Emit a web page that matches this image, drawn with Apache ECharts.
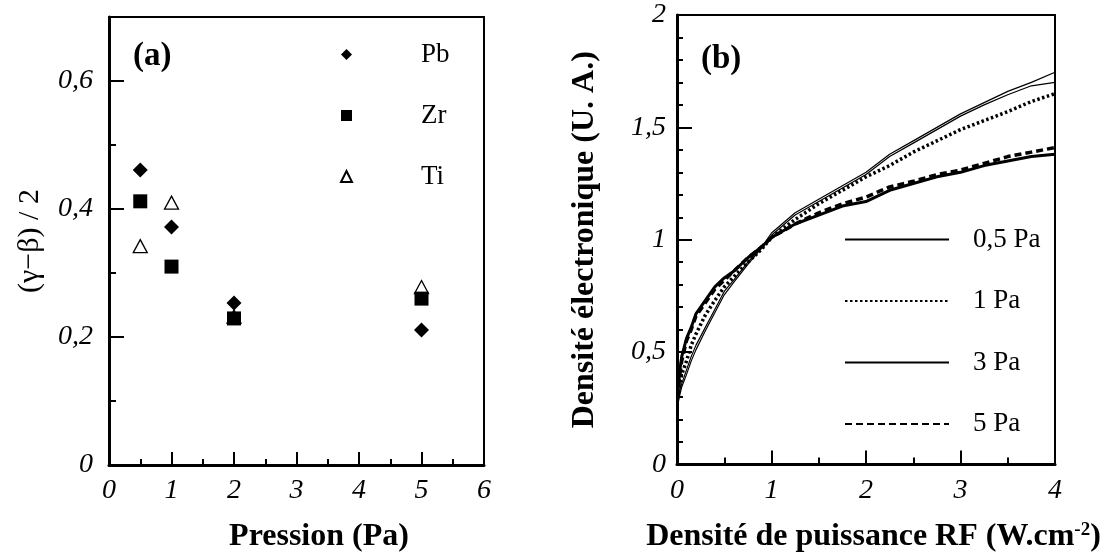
<!DOCTYPE html>
<html>
<head>
<meta charset="utf-8">
<script src="https://cdn.jsdelivr.net/npm/echarts@6.0.0/dist/echarts.min.js"></script>
<style>
    html, body { margin: 0; padding: 0; background: #fff; }
    #main { width: 1114px; height: 558px; }
</style>
</head>
<body>
<div id="main"></div>
<script>
// (a) : (γ-β)/2 en fonction de la pression
const pressions = [0.5, 1, 2, 5];
const pb = [0.461, 0.372, 0.253, 0.211];
const zr = [0.412, 0.310, 0.229, 0.260];
const ti = [0.342, 0.410, 0.232, 0.278];

// (b) : densité électronique en fonction de la densité de puissance RF
const rfX = [0.01, 0.03, 0.05, 0.1, 0.15, 0.2, 0.3, 0.4, 0.5, 0.6, 0.75, 0.9, 1, 1.25, 1.5, 1.75, 2, 2.25, 2.5, 2.75, 3, 3.25, 3.5, 3.75, 4];
const pa05 = [0.28, 0.33, 0.36, 0.42, 0.48, 0.53, 0.61, 0.69, 0.77, 0.82, 0.9, 0.97, 1.03, 1.12, 1.18, 1.24, 1.30, 1.38, 1.44, 1.50, 1.56, 1.61, 1.66, 1.70, 1.745];
const pa05b = [0.27, 0.31, 0.345, 0.40, 0.46, 0.51, 0.595, 0.675, 0.755, 0.81, 0.89, 0.965, 1.02, 1.11, 1.17, 1.23, 1.29, 1.37, 1.43, 1.49, 1.55, 1.60, 1.645, 1.685, 1.70];
const pa1 = [0.30, 0.36, 0.40, 0.46, 0.53, 0.58, 0.665, 0.73, 0.79, 0.835, 0.90, 0.96, 1.01, 1.09, 1.16, 1.22, 1.28, 1.33, 1.39, 1.44, 1.49, 1.53, 1.57, 1.615, 1.65];
const pa3 = [0.32, 0.42, 0.48, 0.56, 0.61, 0.67, 0.73, 0.79, 0.83, 0.86, 0.92, 0.97, 1.01, 1.07, 1.11, 1.15, 1.17, 1.22, 1.25, 1.28, 1.30, 1.33, 1.35, 1.37, 1.38];
const pa5 = [0.30, 0.40, 0.46, 0.55, 0.60, 0.66, 0.72, 0.78, 0.82, 0.86, 0.92, 0.97, 1.01, 1.07, 1.12, 1.16, 1.19, 1.235, 1.26, 1.29, 1.31, 1.34, 1.37, 1.39, 1.41];

const serif = '"Liberation Serif", serif';
const comma = function (v) {
    return String(v).replace('.', ',');
};
const pairs = function (xs, ys) {
    return xs.map(function (x, i) {
        return [x, ys[i]];
    });
};
const tickLabel = function (margin, formatter) {
    return {margin: margin, formatter: formatter, fontFamily: serif, fontStyle: 'italic', fontSize: 28, color: '#000'};
};
const axisLine = function (width) {
    return {show: true, onZero: false, lineStyle: {color: '#000', width: width}};
};
const ticks = function (length) {
    return {show: true, inside: true, length: length, lineStyle: {color: '#000', width: 2}};
};
const minor = function (splitNumber, length) {
    return {show: true, splitNumber: splitNumber, length: length, lineStyle: {color: '#000', width: 2}};
};
// top / right edges of each frame
const frame = function (gridIndex, position, max) {
    return {
        gridIndex: gridIndex
        , type: 'value'
        , position: position
        , min: 0
        , max: max
        , axisLine: axisLine(2)
        , axisTick: {show: false}
        , axisLabel: {show: false}
        , splitLine: {show: false}
    };
};
// tick marks only (no line, no labels)
const tickAxis = function (gridIndex, position, max, interval, len, split, minorLen) {
    return {
        gridIndex: gridIndex
        , type: 'value'
        , position: position
        , min: 0
        , max: max
        , interval: interval
        , axisLine: {show: false}
        , axisTick: ticks(len)
        , minorTick: minor(split, minorLen)
        , axisLabel: {show: false}
        , splitLine: {show: false}
    };
};

const chart = echarts.init(document.getElementById('main'));
chart.setOption({
    animation: false
    , grid: [
        {left: 109, top: 17, width: 375, height: 448}
        , {left: 677, top: 15, width: 378, height: 450}
    ]
    , graphic: [
        {type: 'text', left: 133, top: 40, style: {text: '(a)', font: 'bold 33px ' + serif, fill: '#000'}}
        , {type: 'text', left: 701, top: 43, style: {text: '(b)', font: 'bold 33px ' + serif, fill: '#000'}}
    ]
    , legend: [
        {
            data: ['Pb', 'Zr', 'Ti']
            , orient: 'vertical'
            , left: 335
            , top: 36
            , itemWidth: 11
            , itemHeight: 11
            , itemGap: 34
            , textStyle: {fontFamily: serif, fontSize: 27, lineHeight: 26, color: '#000', padding: [0, 0, 0, 64]}
        }
        , {
            data: ['0,5 Pa', '1 Pa', '3 Pa', '5 Pa']
            , orient: 'vertical'
            , left: 839
            , top: 221
            , itemWidth: 104
            , itemHeight: 14
            , itemGap: 34.5
            , itemStyle: {opacity: 0}
            , textStyle: {fontFamily: serif, fontSize: 27, lineHeight: 26, color: '#000', padding: [0, 0, 0, 19]}
        }
    ]
    , xAxis: [
        {
            gridIndex: 0
            , type: 'value'
            , position: 'bottom'
            , min: 0
            , max: 6
            , interval: 1
            , name: 'Pression (Pa)'
            , nameLocation: 'middle'
            , nameGap: 56
            , nameTextStyle: {fontFamily: serif, fontWeight: 'bold', fontSize: 32, color: '#000', padding: [0, 0, 0, 45]}
            , axisLine: axisLine(3)
            , axisTick: ticks(13)
            , minorTick: minor(2, 6)
            , axisLabel: tickLabel(12, comma)
            , splitLine: {show: false}
        }
        , {
            gridIndex: 1
            , type: 'value'
            , position: 'bottom'
            , min: 0
            , max: 4
            , interval: 1
            , name: '{t|Densité de puissance RF (W.cm}{s|-2}{t|)}'
            , nameLocation: 'middle'
            , nameGap: 56
            , nameTextStyle: {
                padding: [0, 0, 0, 15]
                , rich: {
                    t: {fontFamily: serif, fontWeight: 'bold', fontSize: 32, color: '#000'}
                    , s: {fontFamily: serif, fontWeight: 'bold', fontSize: 19, color: '#000', verticalAlign: 'top', padding: [0, 0, 14, 0]}
                }
            }
            , axisLine: axisLine(3)
            , axisTick: ticks(14)
            , minorTick: minor(2, 7)
            , axisLabel: tickLabel(12, comma)
            , splitLine: {show: false}
        }
        , frame(0, 'top', 6)
        , frame(1, 'top', 4)
        , tickAxis(0, 'bottom', 6, 1, 13, 2, 6)
        , tickAxis(1, 'bottom', 4, 1, 14, 2, 7)
    ]
    , yAxis: [
        {
            gridIndex: 0
            , type: 'value'
            , position: 'left'
            , min: 0
            , max: 0.7
            , interval: 0.2
            , name: '(γ−β) / 2'
            , nameLocation: 'middle'
            , nameGap: 64
            , nameTextStyle: {fontFamily: serif, fontSize: 30, color: '#000'}
            , axisLine: axisLine(3)
            , axisTick: ticks(15)
            , minorTick: minor(2, 7)
            , axisLabel: Object.assign(tickLabel(16, function (v) {
                return v > 0.65 ? '' : comma(v);
            }), {showMaxLabel: false})
            , splitLine: {show: false}
        }
        , {
            gridIndex: 1
            , type: 'value'
            , position: 'left'
            , min: 0
            , max: 2
            , interval: 0.5
            , name: 'Densité électronique (U. A.)'
            , nameLocation: 'middle'
            , nameGap: 76
            , nameTextStyle: {fontFamily: serif, fontWeight: 'bold', fontSize: 32, color: '#000'}
            , axisLine: axisLine(3)
            , axisTick: ticks(15)
            , minorTick: minor(5, 6)
            , axisLabel: tickLabel(11, comma)
            , splitLine: {show: false}
        }
        , frame(0, 'right', 0.7)
        , frame(1, 'right', 2)
        , tickAxis(0, 'left', 0.7, 0.2, 15, 2, 7)
        , tickAxis(1, 'left', 2, 0.5, 15, 5, 6)
    ]
    , series: [
        {
            name: 'Ti'
            , type: 'scatter'
            , xAxisIndex: 0
            , yAxisIndex: 0
            , symbol: 'triangle'
            , symbolSize: [14, 13]
            , itemStyle: {color: '#fff', borderColor: '#000', borderWidth: 1.3, opacity: 1}
            , data: pairs(pressions, ti)
        }
        , {
            name: 'Zr'
            , type: 'scatter'
            , xAxisIndex: 0
            , yAxisIndex: 0
            , symbol: 'rect'
            , symbolSize: 14
            , itemStyle: {color: '#000', opacity: 1}
            , data: pairs(pressions, zr)
        }
        , {
            name: 'Pb'
            , type: 'scatter'
            , xAxisIndex: 0
            , yAxisIndex: 0
            , symbol: 'diamond'
            , symbolSize: [15, 15]
            , itemStyle: {color: '#000', opacity: 1}
            , data: pairs(pressions, pb)
        }
        , {
            name: '0,5 Pa'
            , type: 'line'
            , xAxisIndex: 1
            , yAxisIndex: 1
            , symbol: 'none'
            , itemStyle: {color: '#000'}
            , lineStyle: {color: '#000', width: 1.2}
            , data: pairs(rfX, pa05)
        }
        , {
            name: '0,5 Pa'
            , type: 'line'
            , xAxisIndex: 1
            , yAxisIndex: 1
            , symbol: 'none'
            , itemStyle: {color: '#000'}
            , lineStyle: {color: '#000', width: 1.2}
            , data: pairs(rfX, pa05b)
        }
        , {
            name: '1 Pa'
            , type: 'line'
            , xAxisIndex: 1
            , yAxisIndex: 1
            , symbol: 'none'
            , itemStyle: {color: '#000'}
            , lineStyle: {color: '#000', width: 3.5, type: [2.5, 2.5]}
            , data: pairs(rfX, pa1)
        }
        , {
            name: '3 Pa'
            , type: 'line'
            , xAxisIndex: 1
            , yAxisIndex: 1
            , symbol: 'none'
            , itemStyle: {color: '#000'}
            , lineStyle: {color: '#000', width: 3}
            , data: pairs(rfX, pa3)
        }
        , {
            name: '5 Pa'
            , type: 'line'
            , xAxisIndex: 1
            , yAxisIndex: 1
            , symbol: 'none'
            , itemStyle: {color: '#000'}
            , lineStyle: {color: '#000', width: 3.5, type: [7, 4]}
            , data: pairs(rfX, pa5)
        }
    ]
});
</script>
</body>
</html>
